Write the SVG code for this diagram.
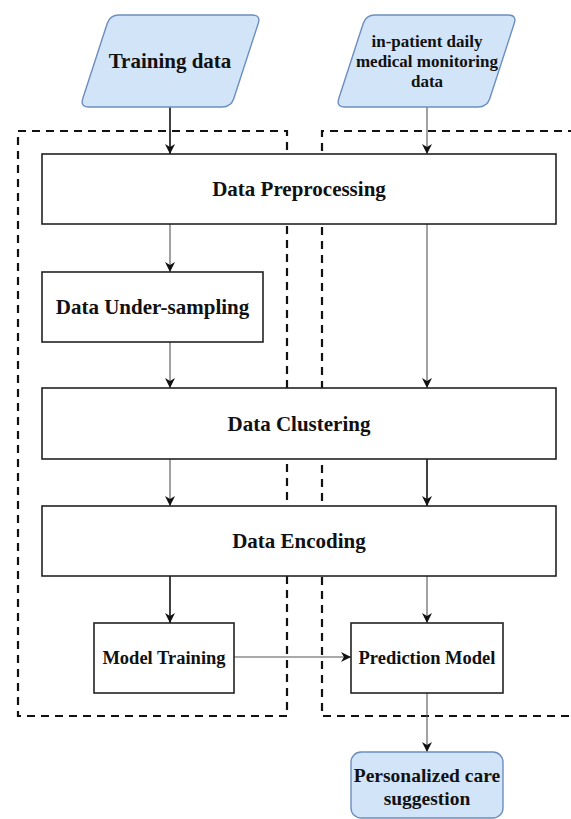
<svg xmlns="http://www.w3.org/2000/svg" width="571" height="819" viewBox="0 0 571 819">
<style>
.bg{fill:#ffffff}
.dash{fill:none;stroke:#111;stroke-width:2.2;stroke-dasharray:8 6}
.box{fill:#ffffff;stroke:#222;stroke-width:1.6}
.io{fill:#d2e5f8;stroke:#6c8ebf;stroke-width:1.4}
.t{font-family:"Liberation Serif","Times New Roman",serif;font-weight:bold;fill:#111;text-anchor:middle}
.big{font-size:21px}
.mid{font-size:18.5px}
.sm{font-size:17px}
.c1{fill:none;stroke:#111;stroke-width:1.6;marker-end:url(#ah)}
.c2{fill:none;stroke:#555;stroke-width:1.1;marker-end:url(#ah)}
</style>
<defs>
<marker id="ah" markerUnits="userSpaceOnUse" markerWidth="12" markerHeight="12" refX="10" refY="5" orient="auto" viewBox="0 0 12 10">
<path d="M0,0 L10,5 L0,10 L3,5 Z" fill="#111"/>
</marker>
</defs>
<rect class="bg" x="0" y="0" width="571" height="819"/>
<g id="containers">
<path class="dash" d="M18,131 L287,131 L287,716 L18,716 Z"/>
<path class="dash" d="M576,131 L322,131 L322,716 L576,716"/>
</g>
<g id="connectors">
<line class="c1" x1="170" y1="107" x2="170" y2="154"/>
<line class="c2" x1="427" y1="107" x2="427" y2="154"/>
<line class="c2" x1="170" y1="224" x2="170" y2="272"/>
<line class="c2" x1="427" y1="224" x2="427" y2="388"/>
<line class="c2" x1="170" y1="342" x2="170" y2="388"/>
<line class="c2" x1="170" y1="459" x2="170" y2="506"/>
<line class="c1" x1="427" y1="459" x2="427" y2="506"/>
<line class="c1" x1="170" y1="576" x2="170" y2="623"/>
<line class="c2" x1="427" y1="576" x2="427" y2="623"/>
<line class="c2" x1="234" y1="657" x2="351" y2="657"/>
<line class="c2" x1="427" y1="693" x2="427" y2="752"/>
</g>
<g id="training-data">
<path class="io" d="M119,15 L252,15 Q261,15 258.2,23.5 L233.8,98.5 Q231,107 222,107 L89,107 Q80,107 82.8,98.5 L107.2,23.5 Q110,15 119,15 Z"/>
<text class="t big" x="170" y="68">Training data</text>
</g>
<g id="inpatient-data">
<path class="io" d="M375,15 L508,15 Q517,15 514.2,23.5 L489.8,98.5 Q487,107 478,107 L345,107 Q336,107 338.8,98.5 L363.2,23.5 Q366,15 375,15 Z"/>
<text class="t sm" x="427" y="47">in-patient daily</text>
<text class="t sm" x="427" y="67">medical monitoring</text>
<text class="t sm" x="427" y="87">data</text>
</g>
<g id="data-preprocessing">
<rect class="box" x="42" y="154" width="514" height="70"/>
<text class="t big" x="299" y="196">Data Preprocessing</text>
</g>
<g id="data-undersampling">
<rect class="box" x="42" y="272" width="221" height="70"/>
<text class="t big" x="152.5" y="314">Data Under-sampling</text>
</g>
<g id="data-clustering">
<rect class="box" x="42" y="388" width="514" height="71"/>
<text class="t big" x="299" y="431">Data Clustering</text>
</g>
<g id="data-encoding">
<rect class="box" x="42" y="506" width="514" height="70"/>
<text class="t big" x="299" y="548">Data Encoding</text>
</g>
<g id="model-training">
<rect class="box" x="94" y="623" width="140" height="70"/>
<text class="t mid" x="164" y="664">Model Training</text>
</g>
<g id="prediction-model">
<rect class="box" x="351" y="623" width="152" height="70"/>
<text class="t mid" x="427" y="664">Prediction Model</text>
</g>
<g id="personalized-care">
<rect class="io" x="351" y="752" width="152" height="66" rx="10" ry="10"/>
<text class="t" style="font-size:19.5px" x="427" y="782">Personalized care</text>
<text class="t" style="font-size:19.5px" x="427" y="805">suggestion</text>
</g>
</svg>
